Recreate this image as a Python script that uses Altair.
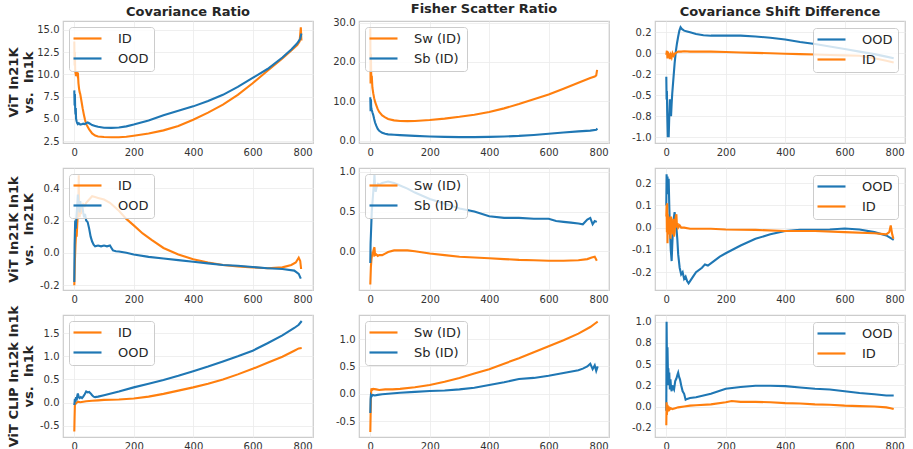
import altair as alt
import pandas as pd

ORANGE = "#ff7f0e"
BLUE = "#1f77b4"
XTICKS = [0, 200, 400, 600, 800]
XDOMAIN = [-38, 803]

col_titles = ["Covariance Ratio", "Fisher Scatter Ratio", "Covariance Shift Difference"]
row_titles = [["ViT In21K", "vs.\u00a0 In1k"], ["ViT In21K In1k", "vs.\u00a0 In21K"], ["ViT CLIP In12k In1k", "vs.\u00a0 In1k"]]

# ---------------- Row 1 ----------------
r1c1_id_x = [0, 1, 2, 3, 4, 6, 8, 10, 12, 14, 16, 18, 20, 24, 28, 32, 36, 40, 45, 50, 60, 70, 80, 100, 125, 150, 175, 200, 250, 300, 350, 400, 450, 500, 550, 600, 650, 700, 730, 750, 758, 762, 764]
r1c1_id_y = [13.7, 11.0, 12.5, 10.5, 10.2, 9.8, 10.3, 10.0, 10.2, 9.0, 8.4, 8.0, 7.8, 7.0, 6.2, 5.5, 4.9, 4.4, 4.1, 3.8, 3.35, 3.12, 3.02, 2.95, 2.92, 2.92, 2.98, 3.1, 3.35, 3.7, 4.2, 4.9, 5.7, 6.6, 7.7, 9.0, 10.4, 11.8, 12.7, 13.3, 13.7, 15.3, 13.8]
r1c1_ood_x = [0, 1, 2, 3, 4, 5, 6, 8, 10, 12, 15, 20, 25, 30, 35, 40, 45, 50, 55, 60, 70, 80, 100, 125, 150, 175, 200, 250, 300, 350, 400, 450, 500, 550, 600, 650, 700, 730, 750, 760, 764]
r1c1_ood_y = [8.2, 6.5, 7.8, 6.0, 5.5, 6.2, 5.0, 4.7, 4.5, 4.4, 4.5, 4.35, 4.4, 4.45, 4.4, 4.5, 4.6, 4.5, 4.4, 4.3, 4.2, 4.1, 4.0, 3.98, 4.02, 4.15, 4.35, 4.8, 5.4, 5.9, 6.4, 7.0, 7.7, 8.6, 9.6, 10.6, 11.9, 12.8, 13.5, 14.0, 14.6]

r1c2_sw_x = [0, 1, 2, 3, 4, 5, 7, 10, 13, 16, 20, 25, 30, 40, 50, 60, 80, 100, 125, 150, 200, 250, 300, 350, 400, 450, 500, 550, 600, 650, 700, 740, 755, 760, 763]
r1c2_sw_y = [28.5, 14.5, 22.0, 17.0, 15.5, 16.5, 13.5, 12.0, 10.8, 9.9, 9.0, 8.0, 7.3, 6.4, 5.9, 5.5, 5.15, 5.0, 4.95, 5.0, 5.25, 5.6, 6.05, 6.6, 7.3, 8.2, 9.3, 10.5, 11.7, 13.2, 14.7, 15.9, 16.3, 16.6, 18.0]
r1c2_sb_x = [0, 1, 2, 3, 5, 7, 10, 13, 16, 20, 25, 30, 40, 50, 60, 80, 100, 150, 200, 250, 300, 350, 400, 450, 500, 550, 600, 650, 700, 740, 760, 764]
r1c2_sb_y = [11.0, 7.5, 10.5, 8.5, 7.8, 7.2, 6.5, 5.5, 4.6, 3.8, 3.0, 2.5, 2.0, 1.75, 1.6, 1.5, 1.4, 1.2, 1.05, 0.95, 0.9, 0.9, 0.95, 1.05, 1.2, 1.45, 1.75, 2.05, 2.35, 2.55, 2.75, 3.1]

r1c3_ood_x = [0, 1, 2, 3, 4, 5, 6, 8, 10, 12, 14, 16, 18, 20, 24, 28, 32, 36, 40, 44, 48, 52, 60, 70, 80, 100, 125, 150, 200, 250, 300, 350, 400, 450, 500, 550, 600, 650, 700, 740, 765]
r1c3_ood_y = [-0.28, -0.55, -0.45, -0.7, -0.85, -1.0, -0.95, -1.0, -0.75, -0.55, -0.62, -0.75, -0.6, -0.48, -0.3, -0.12, 0.02, 0.12, 0.2, 0.27, 0.31, 0.29, 0.27, 0.26, 0.25, 0.23, 0.215, 0.21, 0.21, 0.21, 0.2, 0.185, 0.165, 0.135, 0.11, 0.08, 0.05, 0.02, -0.01, -0.04, -0.06]
r1c3_id_x = [0, 2, 4, 6, 8, 10, 12, 15, 18, 21, 25, 30, 35, 40, 50, 60, 80, 100, 150, 200, 250, 300, 350, 400, 450, 500, 550, 600, 650, 700, 740, 765]
r1c3_id_y = [-0.02, 0.03, -0.06, 0.02, -0.05, 0.0, -0.07, -0.02, -0.05, 0.0, -0.03, 0.0, 0.01, 0.02, 0.02, 0.025, 0.02, 0.02, 0.02, 0.015, 0.01, 0.005, 0.0, -0.005, -0.01, -0.015, -0.02, -0.025, -0.03, -0.06, -0.09, -0.11]

# ---------------- Row 2 ----------------
r2c1_id_x = [0, 2, 4, 6, 8, 10, 12, 14, 15, 16, 18, 20, 22, 25, 30, 35, 40, 50, 60, 70, 80, 100, 120, 150, 175, 200, 230, 260, 300, 350, 400, 450, 500, 550, 600, 650, 700, 730, 745, 755, 760, 763]
r2c1_id_y = [-0.2, -0.05, 0.05, 0.12, 0.1, 0.18, 0.25, 0.35, 0.48, 0.3, 0.22, 0.28, 0.24, 0.27, 0.3, 0.29, 0.31, 0.33, 0.35, 0.345, 0.34, 0.33, 0.31, 0.26, 0.21, 0.17, 0.12, 0.08, 0.03, -0.01, -0.04, -0.06, -0.075, -0.085, -0.09, -0.095, -0.09, -0.075, -0.06, -0.03, -0.05, -0.1]
r2c1_ood_x = [0, 1, 3, 5, 8, 10, 12, 15, 18, 20, 23, 26, 30, 33, 36, 40, 45, 50, 55, 60, 65, 70, 80, 90, 100, 110, 120, 125, 130, 140, 150, 175, 200, 250, 300, 350, 400, 450, 500, 550, 600, 650, 700, 740, 755, 762]
r2c1_ood_y = [-0.18, 0.05, 0.2, 0.15, 0.25, 0.3, 0.36, 0.3, 0.25, 0.32, 0.28, 0.3, 0.25, 0.22, 0.24, 0.2, 0.19, 0.15, 0.1, 0.07, 0.05, 0.04, 0.045, 0.04, 0.045, 0.04, 0.045, 0.03, 0.015, 0.01, 0.008, 0.0, -0.01, -0.025, -0.035, -0.045, -0.055, -0.065, -0.075, -0.08, -0.088, -0.095, -0.1, -0.11, -0.13, -0.16]

r2c2_sw_x = [0, 2, 4, 6, 8, 10, 12, 14, 16, 20, 25, 30, 40, 50, 60, 80, 100, 125, 150, 200, 250, 300, 350, 400, 450, 500, 550, 600, 650, 700, 730, 745, 755, 762]
r2c2_sw_y = [-0.42, -0.2, -0.1, -0.05, -0.07, 0.0, 0.03, 0.05, -0.05, -0.04, -0.06, -0.05, -0.05, -0.03, -0.01, 0.01, 0.01, 0.01, 0.0, -0.03, -0.05, -0.07, -0.08, -0.09, -0.1, -0.11, -0.115, -0.12, -0.12, -0.115, -0.1, -0.08, -0.07, -0.12]
r2c2_sb_x = [0, 1, 3, 5, 7, 9, 11, 13, 14, 16, 18, 22, 26, 30, 40, 50, 60, 80, 100, 125, 150, 175, 200, 225, 250, 275, 300, 350, 400, 450, 500, 550, 600, 625, 650, 675, 700, 715, 730, 740, 748, 755, 762]
r2c2_sb_y = [-0.15, 0.1, 0.3, 0.5, 0.6, 0.7, 0.8, 0.9, 0.97, 0.82, 0.75, 0.82, 0.85, 0.84, 0.86, 0.87, 0.88, 0.86, 0.83, 0.79, 0.74, 0.7, 0.66, 0.63, 0.6, 0.57, 0.54, 0.5, 0.44, 0.42, 0.42, 0.41, 0.41, 0.38, 0.37, 0.36, 0.35, 0.34, 0.4, 0.42, 0.34, 0.38, 0.37]

r2c3_ood_x = [0, 1, 2, 4, 6, 8, 10, 12, 15, 18, 20, 22, 25, 28, 31, 34, 37, 40, 45, 50, 55, 60, 65, 70, 75, 80, 90, 100, 120, 130, 140, 160, 180, 200, 250, 300, 350, 400, 450, 500, 550, 600, 650, 700, 740, 765]
r2c3_ood_y = [0.1, 0.24, 0.18, 0.23, 0.15, 0.22, 0.1, 0.0, -0.1, -0.15, -0.08, -0.02, 0.04, 0.07, 0.03, 0.0, -0.05, -0.12, -0.18, -0.21, -0.2, -0.23, -0.22, -0.24, -0.25, -0.24, -0.22, -0.2, -0.18, -0.165, -0.17, -0.15, -0.13, -0.115, -0.08, -0.05, -0.03, -0.015, -0.01, -0.01, -0.008, -0.004, -0.008, -0.02, -0.035, -0.055]
r2c3_id_x = [0, 1, 2, 3, 4, 5, 6, 8, 10, 12, 14, 16, 18, 20, 22, 24, 26, 28, 30, 32, 34, 36, 38, 40, 45, 50, 60, 80, 100, 150, 200, 300, 400, 500, 600, 700, 740, 750, 755, 760, 764]
r2c3_id_y = [0.05, 0.1, -0.02, 0.11, -0.07, 0.06, 0.0, 0.05, -0.03, 0.04, -0.05, 0.05, -0.02, 0.03, -0.03, 0.04, -0.04, -0.02, 0.02, 0.05, 0.06, 0.0, 0.02, 0.0, 0.01, 0.0, 0.0, -0.005, -0.005, -0.005, -0.008, -0.01, -0.015, -0.015, -0.02, -0.025, -0.03, -0.02, 0.01, -0.03, -0.05]

# ---------------- Row 3 ----------------
r3c1_id_x = [0, 1, 2, 3, 5, 8, 12, 20, 30, 40, 60, 80, 100, 150, 200, 250, 300, 350, 400, 450, 500, 550, 600, 650, 700, 740, 755, 765]
r3c1_id_y = [-0.62, -0.3, -0.05, 0.0, -0.02, 0.0, 0.02, 0.01, 0.02, 0.03, 0.04, 0.05, 0.06, 0.07, 0.09, 0.13, 0.19, 0.26, 0.33, 0.41, 0.5, 0.61, 0.73, 0.86, 0.99, 1.12, 1.17, 1.18]
r3c1_ood_x = [0, 2, 4, 6, 8, 10, 12, 15, 18, 22, 26, 30, 35, 40, 45, 50, 55, 60, 65, 70, 80, 100, 150, 200, 250, 300, 350, 400, 450, 500, 550, 600, 650, 700, 740, 755, 765]
r3c1_ood_y = [-0.05, 0.08, 0.02, 0.12, 0.05, 0.15, 0.2, 0.12, 0.1, 0.12, 0.1, 0.13, 0.18, 0.24, 0.22, 0.23, 0.2, 0.16, 0.13, 0.12, 0.13, 0.16, 0.24, 0.33, 0.41, 0.49, 0.58, 0.68, 0.78, 0.89, 1.0, 1.12, 1.28, 1.45, 1.61, 1.68, 1.76]

r3c2_sw_x = [0, 1, 2, 3, 4, 6, 10, 20, 30, 50, 75, 100, 150, 200, 250, 300, 350, 400, 450, 500, 550, 600, 650, 700, 740, 755, 765]
r3c2_sw_y = [-0.7, -0.4, -0.1, 0.05, 0.1, 0.07, 0.09, 0.08, 0.07, 0.08, 0.08, 0.09, 0.12, 0.16, 0.22, 0.29, 0.37, 0.45, 0.55, 0.65, 0.76, 0.87, 0.98, 1.1, 1.22, 1.28, 1.32]
r3c2_sb_x = [0, 1, 2, 4, 8, 15, 25, 40, 60, 100, 150, 200, 250, 300, 350, 400, 450, 500, 550, 600, 650, 700, 715, 730, 740, 748, 755, 760, 765]
r3c2_sb_y = [-0.35, -0.1, -0.03, -0.05, -0.02, -0.03, -0.02, -0.01, 0.0, 0.02, 0.035, 0.05, 0.06, 0.08, 0.11, 0.16, 0.21, 0.27, 0.29, 0.33, 0.38, 0.43, 0.46, 0.5, 0.55, 0.45, 0.52, 0.42, 0.5]

r3c3_ood_x = [0, 1, 2, 3, 4, 5, 6, 7, 8, 10, 12, 14, 16, 18, 20, 23, 26, 30, 34, 38, 40, 43, 46, 50, 55, 60, 65, 70, 80, 100, 150, 200, 250, 300, 350, 400, 450, 500, 550, 600, 650, 700, 740, 765]
r3c3_ood_y = [-0.05, 1.0, 0.6, 0.3, 0.7, 0.5, 0.25, 0.45, 0.3, 0.4, 0.2, 0.32, 0.22, 0.18, 0.25, 0.22, 0.2, 0.3, 0.33, 0.38, 0.4, 0.35, 0.32, 0.25, 0.18, 0.15, 0.08, 0.09, 0.1, 0.11, 0.15, 0.21, 0.23, 0.245, 0.245, 0.24, 0.225, 0.21, 0.2, 0.18, 0.16, 0.145, 0.13, 0.13]
r3c3_id_x = [0, 1, 2, 4, 6, 8, 10, 15, 20, 30, 40, 60, 80, 100, 150, 200, 220, 250, 300, 350, 400, 450, 500, 550, 600, 650, 700, 740, 755, 765]
r3c3_id_y = [-0.22, 0.05, -0.1, 0.02, -0.05, 0.0, -0.04, -0.02, -0.03, -0.02, -0.01, 0.0, 0.01, 0.015, 0.025, 0.05, 0.065, 0.055, 0.055, 0.05, 0.04, 0.035, 0.025, 0.02, 0.01, 0.005, 0.0, -0.01, -0.02, -0.03]

LABEL_EXPR = ("datum.value == 0.25 ? '0.2' : datum.value == -0.25 ? '-0.2' : "
              "datum.value == 0.75 ? '0.8' : datum.value == -0.75 ? '-0.8' : "
              "(datum.value < -1e-9 ? '-' : '') + format(abs(datum.value), '.1f')")


def panel(series, colors, ydomain, yticks, orient, offset, title=None, row_title=None):
    order = [s[0] for s in series]
    scale = alt.Scale(domain=order, range=colors)
    legend = alt.Legend(title=None, orient=orient, offset=offset)
    if row_title is not None:
        yaxis = alt.Axis(values=yticks, labelExpr=LABEL_EXPR, title=row_title,
                         minExtent=26, maxExtent=26, titlePadding=2)
    else:
        yaxis = alt.Axis(values=yticks, labelExpr=LABEL_EXPR, title=None)
    layers = []
    for name, xs, ys in series:
        df = pd.DataFrame({"step": xs, "value": ys, "series": [name] * len(xs)})
        layers.append(
            alt.Chart(df).mark_line(strokeWidth=2.1, clip=True).encode(
                x=alt.X("step:Q", scale=alt.Scale(domain=XDOMAIN, nice=False, zero=False),
                        axis=alt.Axis(values=XTICKS, title=None, format="d")),
                y=alt.Y("value:Q", scale=alt.Scale(domain=ydomain, nice=False, zero=False), axis=yaxis),
                color=alt.Color("series:N", scale=scale, legend=legend),
            )
        )
    ch = alt.layer(*layers).properties(width=250, height=122)
    if title is not None:
        ch = ch.properties(title=title)
    return ch


panels = [
    panel([("ID", r1c1_id_x, r1c1_id_y), ("OOD", r1c1_ood_x, r1c1_ood_y)], [ORANGE, BLUE],
          [2.28, 16.0], [2.5, 5.0, 7.5, 10.0, 12.5, 15.0], "top-left", 6, col_titles[0], row_titles[0]),
    panel([("Sw (ID)", r1c2_sw_x, r1c2_sw_y), ("Sb (ID)", r1c2_sb_x, r1c2_sb_y)], [ORANGE, BLUE],
          [-0.6, 30.4], [0, 10, 20, 30], "top-left", 6, col_titles[1]),
    panel([("OOD", r1c3_ood_x, r1c3_ood_y), ("ID", r1c3_id_x, r1c3_id_y)], [BLUE, ORANGE],
          [-1.07, 0.385], [-1.0, -0.75, -0.5, -0.25, 0.0, 0.25], "top-right", 7, col_titles[2]),
    panel([("ID", r2c1_id_x, r2c1_id_y), ("OOD", r2c1_ood_x, r2c1_ood_y)], [ORANGE, BLUE],
          [-0.23, 0.525], [-0.2, 0.0, 0.2, 0.4], "top-left", 6, None, row_titles[1]),
    panel([("Sw (ID)", r2c2_sw_x, r2c2_sw_y), ("Sb (ID)", r2c2_sb_x, r2c2_sb_y)], [ORANGE, BLUE],
          [-0.49, 1.05], [0.0, 0.5, 1.0], "top-left", 6),
    panel([("OOD", r2c3_ood_x, r2c3_ood_y), ("ID", r2c3_id_x, r2c3_id_y)], [BLUE, ORANGE],
          [-0.28, 0.268], [-0.2, -0.1, 0.0, 0.1, 0.2], "top-right", 7),
    panel([("ID", r3c1_id_x, r3c1_id_y), ("OOD", r3c1_ood_x, r3c1_ood_y)], [ORANGE, BLUE],
          [-0.74, 1.89], [-0.5, 0.0, 0.5, 1.0, 1.5], "top-left", 6, None, row_titles[2]),
    panel([("Sw (ID)", r3c2_sw_x, r3c2_sw_y), ("Sb (ID)", r3c2_sb_x, r3c2_sb_y)], [ORANGE, BLUE],
          [-0.79, 1.44], [-0.5, 0.0, 0.5, 1.0], "top-left", 6),
    panel([("OOD", r3c3_ood_x, r3c3_ood_y), ("ID", r3c3_id_x, r3c3_id_y)], [BLUE, ORANGE],
          [-0.36, 1.08], [-0.25, 0.0, 0.25, 0.5, 0.75, 1.0], "top-right", 7),
]

chart = (
    alt.concat(*panels, columns=3, spacing={"row": 25, "column": 46}, bounds="flush")
    .resolve_scale(x="independent", y="independent", color="independent")
    .resolve_legend(color="independent")
    .properties(padding={"left": 6, "top": 1, "right": 2, "bottom": 2}, background="white")
    .configure(font="DejaVu Sans")
    .configure_view(stroke="#cccccc", strokeWidth=1.2)
    .configure_axis(grid=True, gridColor="#ebebeb", gridWidth=0.8, ticks=False, domain=False,
                    labelFont="DejaVu Sans", labelFontSize=10, labelColor="#333333", labelPadding=4,
                    titleFont="DejaVu Sans", titleFontSize=13, titleFontWeight="bold",
                    titleColor="#262626")
    .configure_title(font="DejaVu Sans", fontSize=13, fontWeight="bold", color="#262626", offset=2)
    .configure_legend(labelFont="DejaVu Sans", labelFontSize=13, labelColor="#262626",
                      symbolType="M-2.8,0H2.8", symbolSize=100, symbolStrokeWidth=2.2,
                      symbolOffset=7, labelOffset=24,
                      strokeColor="#cccccc", fillColor="rgba(255,255,255,0.8)", cornerRadius=3,
                      padding=5, rowPadding=6)
)

chart.save("out.html", embed_options={"renderer": "svg", "actions": False})
